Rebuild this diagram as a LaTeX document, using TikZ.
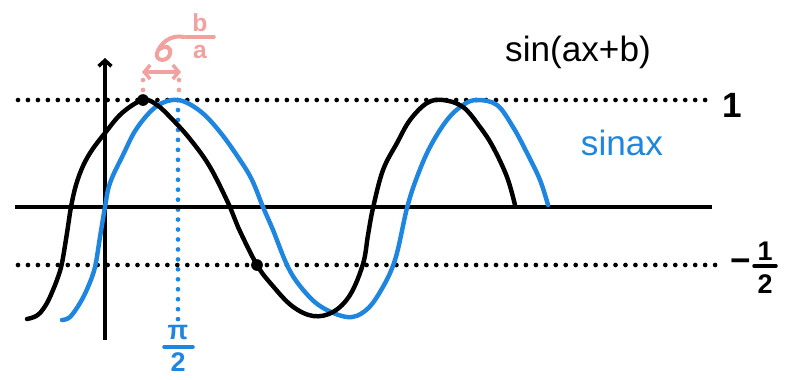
\documentclass[tikz,border=0pt]{standalone}
\usepackage{fontspec}
\setmainfont{Liberation Sans}
\usetikzlibrary{arrows.meta}
\definecolor{penblue}{HTML}{1E86E0}
\definecolor{penpink}{HTML}{F3A19E}
\begin{document}
\begin{tikzpicture}[x=0.03cm,y=-0.03cm]
    \tikzset{
        curve/.style={line width=3.8pt, line cap=round, line join=round},
        axis/.style={line width=3pt},
        dots/.style={line width=4pt, line cap=round, dash pattern=on 0pt off 8.5pt},
        lbl/.style={font=\fontsize{30}{30}\selectfont, inner sep=0pt},
        fraclbl/.style={font=\bfseries\fontsize{23}{23}\selectfont, inner sep=0pt},
        bar/.style={line width=3pt, line cap=round},
        mark dot/.style={circle, fill, inner sep=0pt, minimum size=10pt},
        barb/.style={-{Straight Barb[length=5pt, width=11pt]}}
    }
    \useasboundingbox (0,0) rectangle (795,379);

    % guide lines
    \draw[dots] (18,100) -- (715,100);
    \draw[dots] (18,265) -- (718,265);
    \draw[dots, penblue] (178,110) -- (178,320);
    \foreach \x in {143,179}{
        \draw[dots, penpink] (\x,80) -- (\x,97);
    }

    % axes
    \coordinate (xl) at (15,207);
    \coordinate (xr) at (712,207);
    \coordinate (yb) at (105,340);
    \coordinate (yt) at (105,58);
    \draw[axis] (xl) -- (xr);
    \draw[axis, barb] (yb) -- (yt);

    % curves
    \draw[curve, penblue] plot[smooth, tension=0.6] coordinates {
        (62,320) (70,317) (80,303) (88,287) (95,267) (100,237) (105,207)
        (110,183) (123,155) (137,128) (157,106) (178,100) (200,111) (220,132)
        (240,160) (252,180) (263,207) (273,230) (287,265) (300,286) (320,306)
        (347,317) (365,311) (380,292) (395,260) (407,208) (417,177) (430,147)
        (447,120) (463,105) (477,100) (497,105) (513,127) (527,153) (540,180)
        (548,205)};
    \draw[curve] plot[smooth, tension=0.6] coordinates {
        (27,319) (34,317) (40,313) (47,303) (53,290) (58,277) (62,263) (67,233)
        (71,207) (76,185) (83,166) (92,150) (105,133) (122,113) (143,100)
        (157,105) (172,119) (190,139) (210,167) (230,207) (238,227) (257,265)
        (272,285) (292,306) (313,316) (333,312) (350,295) (363,264) (368,235)
        (373,208) (383,170) (397,143) (410,120) (427,103) (443,100) (463,107)
        (480,127) (493,147) (507,177) (515,205)};

    % marked points
    \node[mark dot] (top) at (143,100) {};
    \node[mark dot] (cut) at (257,265) {};

    % shift
    \coordinate (sl) at (142,72);
    \coordinate (sr) at (181,72);
    \draw[penpink, line width=3pt, {Straight Barb[length=5pt, width=12pt]}-{Straight Barb[length=5pt, width=12pt]}] (sl) -- (sr);
    \draw[penpink, line width=3.4pt, line cap=round]
        (184,37) .. controls (170,34) and (160,44) .. (157,53)
        .. controls (155,62) and (168,62) .. (170,54)
        .. controls (172,47) and (164,44) .. (160,49);
    \node[fraclbl, text=penpink, font=\bfseries\fontsize{21}{21}\selectfont] (shb) at (200,23) {b};
    \node[fraclbl, text=penpink, font=\bfseries\fontsize{21}{21}\selectfont] (sha) at (200,52) {a};
    \draw[bar, penpink] (186,37) -- (214,37);

    % labels
    \node[lbl] (fshift) at (578,52) {sin(ax+b)};
    \node[lbl, text=penblue] (fbase) at (622,143) {sinax};
    \node[lbl, font=\bfseries\fontsize{30}{30}\selectfont] (one) at (732,105) {1};
    \node[lbl, font=\bfseries\fontsize{30}{30}\selectfont] (minus) at (741,266) {−};
    \node[fraclbl] (hnum) at (765,251) {1};
    \node[fraclbl] (hden) at (765,284) {2};
    \draw[bar] (754,266) -- (776,266);
    \node[fraclbl, text=penblue] (pinum) at (178,333) {π};
    \node[fraclbl, text=penblue] (piden) at (178,362) {2};
    \draw[bar, penblue] (164,347) -- (193,347);
\end{tikzpicture}
\end{document}
